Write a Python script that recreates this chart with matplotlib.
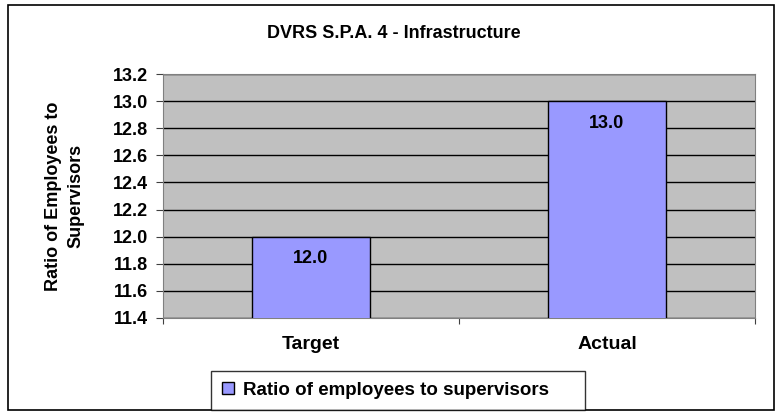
import numpy as np
import matplotlib.pyplot as plt
from matplotlib.patches import Rectangle

categories = ['Target', 'Actual']
ratios = [12.0, 13.0]
series_name = 'Ratio of employees to supervisors'

plt.rcParams['font.family'] = ['Liberation Sans', 'DejaVu Sans']
plt.rcParams['font.weight'] = 'bold'

fig = plt.figure(figsize=(7.8, 4.15), dpi=100)
fig.patches.append(Rectangle((8 / 780, 5 / 415), 766 / 780, 405 / 415,
                             transform=fig.transFigure, fill=False,
                             edgecolor='black', linewidth=1.2))

ax = fig.add_axes([163 / 780, 1 - 318 / 415, 592 / 780, 244 / 415])
ax.set_facecolor('#C0C0C0')
x = np.arange(len(categories))
bars = ax.bar(x, ratios, width=0.4, color='#9999FF', edgecolor='black',
              linewidth=1, label=series_name, zorder=3)
ax.set_xlim(-0.5, len(categories) - 0.5)
ax.set_ylim(11.4, 13.2)
ax.set_yticks(np.arange(11.4, 13.21, 0.2))
ax.yaxis.set_major_formatter(plt.FormatStrFormatter('%.1f'))
ax.grid(axis='y', color='black', linewidth=1, zorder=1)
ax.set_xticks(x)
ax.set_xticklabels(categories, fontsize=14, fontweight='bold')
ax.set_xticks(np.arange(-0.5, len(categories), 1.0), minor=True)
ax.tick_params(axis='y', labelsize=13, length=5, width=0.8, pad=6,
               color='#404040')
ax.tick_params(axis='x', which='major', length=0, pad=13)
ax.tick_params(axis='x', which='minor', length=4, width=0.8,
               color='#404040')
for s in ['top', 'right', 'left', 'bottom']:
    ax.spines[s].set_color('#808080')

for b, v in zip(bars, ratios):
    ax.annotate(f'{v:.1f}', (b.get_x() + b.get_width() / 2, v),
                xytext=(0, -16), textcoords='offset points',
                ha='center', va='center', fontsize=13, fontweight='bold',
                zorder=4)

ax.set_ylabel('Ratio of Employees to\nSupervisors', fontsize=13,
              fontweight='bold', labelpad=20, linespacing=1.45)
fig.text(394 / 780, 1 - 33 / 415, 'DVRS S.P.A. 4 - Infrastructure',
         ha='center', va='center', fontsize=13, fontweight='bold')

leg = fig.legend(loc='lower left', mode='expand',
                 bbox_to_anchor=(211 / 780, 1 - 410 / 415, 374 / 780, 39 / 415),
                 fontsize=13.5, frameon=True, fancybox=False,
                 handlelength=0.65, handleheight=0.65, handletextpad=0.45,
                 borderpad=0.6, borderaxespad=0)
leg.get_frame().set_edgecolor('black')
leg.get_frame().set_linewidth(1)

fig.savefig('out.png', dpi=100)
